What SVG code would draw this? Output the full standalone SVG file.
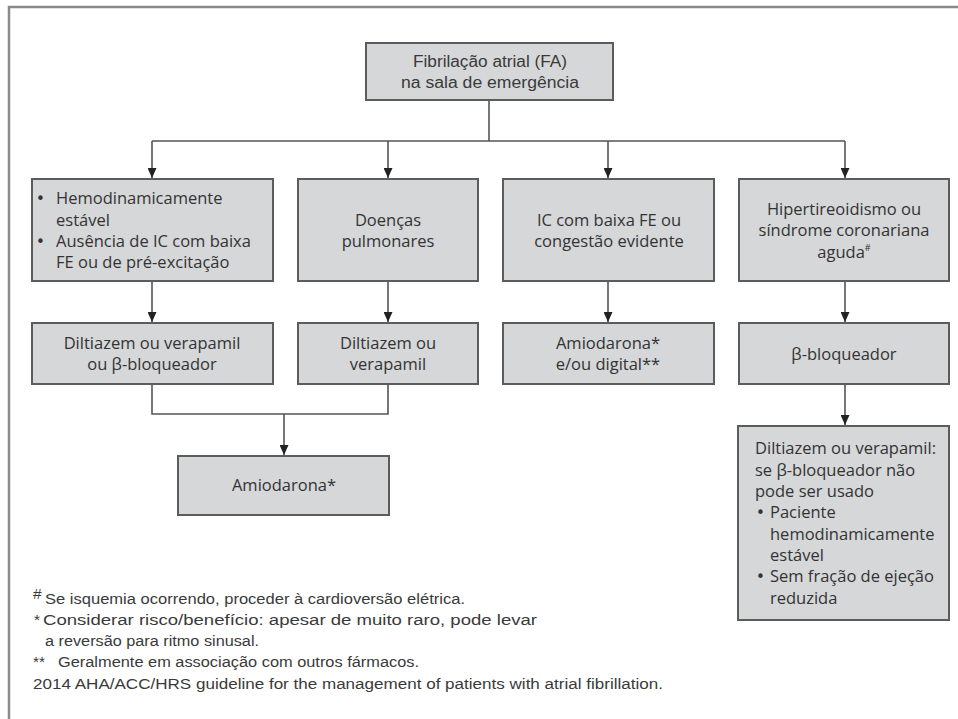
<svg xmlns="http://www.w3.org/2000/svg" width="958" height="719" viewBox="0 0 958 719">
<style>
.box{fill:#d5d7d9;stroke:#5c5c5c;stroke-width:2}
.t{font-family:"Open Sans","Liberation Sans",sans-serif;font-size:16.5px;fill:#333}
.c{text-anchor:middle}
.b{font-family:"DejaVu Sans",sans-serif;font-size:15px;fill:#333}
.tc{font-family:"Liberation Sans","Open Sans",sans-serif;font-size:16px;fill:#3a3a3a}
.fn{font-family:"Liberation Sans","Open Sans",sans-serif;font-size:15.5px;fill:#3a3a3a}
.ln{fill:none;stroke:#555;stroke-width:1.6}
.frame{fill:none;stroke:#8a8a8a;stroke-width:2.5}
</style>
<defs>
<marker id="ah" markerWidth="10" markerHeight="9" refX="10" refY="4.5" orient="auto" markerUnits="userSpaceOnUse" viewBox="0 0 10 9">
<path d="M0,0 L10,4.5 L0,9 Z" fill="#222"/>
</marker>
</defs>
<rect width="958" height="719" fill="#ffffff"/>
<path class="frame" d="M9,719 V7 H958"/>

<g id="connectors">
<path class="ln" d="M489,100 V141"/>
<path class="ln" d="M152,141 H845"/>
<path class="ln" d="M152,141 V178" marker-end="url(#ah)"/>
<path class="ln" d="M388,141 V178" marker-end="url(#ah)"/>
<path class="ln" d="M608,141 V178" marker-end="url(#ah)"/>
<path class="ln" d="M845,141 V178" marker-end="url(#ah)"/>
<path class="ln" d="M152,281 V322" marker-end="url(#ah)"/>
<path class="ln" d="M388,281 V322" marker-end="url(#ah)"/>
<path class="ln" d="M608,281 V322" marker-end="url(#ah)"/>
<path class="ln" d="M845,281 V322" marker-end="url(#ah)"/>
<path class="ln" d="M152,384 V414 H388 V384"/>
<path class="ln" d="M284,414 V455" marker-end="url(#ah)"/>
<path class="ln" d="M845,384 V425" marker-end="url(#ah)"/>
</g>

<g id="n-fa">
<rect class="box" x="366" y="43" width="247" height="57"/>
<text class="tc c" x="490" y="67" textLength="154" lengthAdjust="spacingAndGlyphs">Fibrilação atrial (FA)</text>
<text class="tc c" x="490" y="88" textLength="178" lengthAdjust="spacingAndGlyphs">na sala de emergência</text>
</g>

<g id="n-estavel">
<rect class="box" x="32" y="179" width="241" height="102"/>
<text class="b" x="36" y="204">•</text>
<text class="t" x="56" y="204">Hemodinamicamente</text>
<text class="t" x="56" y="225.5">estável</text>
<text class="b" x="36" y="247">•</text>
<text class="t" x="56" y="247">Ausência de IC com baixa</text>
<text class="t" x="56" y="268">FE ou de pré-excitação</text>
</g>

<g id="n-pulm">
<rect class="box" x="298" y="179" width="180" height="102"/>
<text class="t c" x="388" y="225.5">Doenças</text>
<text class="t c" x="388" y="247">pulmonares</text>
</g>

<g id="n-ic">
<rect class="box" x="503" y="179" width="211" height="102"/>
<text class="t c" x="609" y="225.5">IC com baixa FE ou</text>
<text class="t c" x="609" y="247">congestão evidente</text>
</g>

<g id="n-hiper">
<rect class="box" x="739" y="179" width="210" height="102"/>
<text class="t c" x="844" y="215">Hipertireoidismo ou</text>
<text class="t c" x="844" y="236">síndrome coronariana</text>
<text class="t c" x="844" y="257.5">aguda<tspan font-size="9" dy="-7">#</tspan></text>
</g>

<g id="n-dvb">
<rect class="box" x="32" y="323" width="241" height="61"/>
<text class="t c" x="152" y="349">Diltiazem ou verapamil</text>
<text class="t c" x="152" y="370">ou β-bloqueador</text>
</g>

<g id="n-dv">
<rect class="box" x="298" y="323" width="180" height="61"/>
<text class="t c" x="388" y="349">Diltiazem ou</text>
<text class="t c" x="388" y="370">verapamil</text>
</g>

<g id="n-amio-dig">
<rect class="box" x="503" y="323" width="211" height="61"/>
<text class="t c" x="608" y="349">Amiodarona*</text>
<text class="t c" x="608" y="370">e/ou digital**</text>
</g>

<g id="n-beta">
<rect class="box" x="739" y="323" width="210" height="61"/>
<text class="t c" x="844" y="360">β-bloqueador</text>
</g>

<g id="n-amio">
<rect class="box" x="178" y="456" width="211" height="59"/>
<text class="t c" x="284" y="491">Amiodarona*</text>
</g>

<g id="n-dv2">
<rect class="box" x="738" y="426" width="211" height="194"/>
<text class="t" x="755" y="454">Diltiazem ou verapamil:</text>
<text class="t" x="755" y="475.5">se β-bloqueador não</text>
<text class="t" x="755" y="497">pode ser usado</text>
<text class="b" x="756" y="518">•</text>
<text class="t" x="770" y="518">Paciente</text>
<text class="t" x="770" y="539.5">hemodinamicamente</text>
<text class="t" x="770" y="561">estável</text>
<text class="b" x="756" y="582">•</text>
<text class="t" x="770" y="582">Sem fração de ejeção</text>
<text class="t" x="770" y="603.5">reduzida</text>
</g>

<g id="footnotes">
<text class="fn" x="33" y="599" font-size="9">#</text>
<text class="fn" x="45" y="604" textLength="420" lengthAdjust="spacingAndGlyphs">Se isquemia ocorrendo, proceder à cardioversão elétrica.</text>
<text class="fn" x="34" y="625">*</text>
<text class="fn" x="43" y="625" textLength="494" lengthAdjust="spacingAndGlyphs">Considerar risco/benefício: apesar de muito raro, pode levar</text>
<text class="fn" x="45" y="646" textLength="214" lengthAdjust="spacingAndGlyphs">a reversão para ritmo sinusal.</text>
<text class="fn" x="33" y="667">**</text>
<text class="fn" x="58" y="667" textLength="361" lengthAdjust="spacingAndGlyphs">Geralmente em associação com outros fármacos.</text>
<text class="fn" x="33" y="689" textLength="630" lengthAdjust="spacingAndGlyphs">2014 AHA/ACC/HRS guideline for the management of patients with atrial fibrillation.</text>
</g>
</svg>
